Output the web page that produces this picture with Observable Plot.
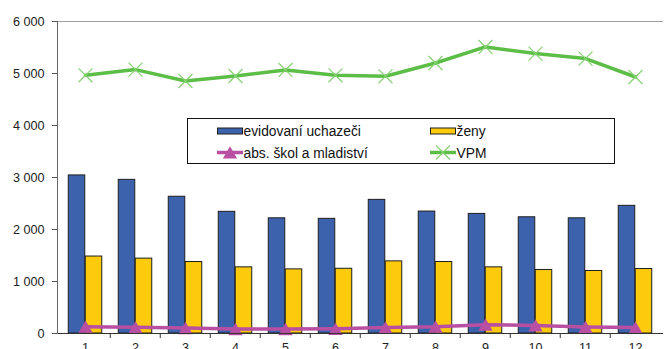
<!DOCTYPE html>
<html><head><meta charset="utf-8">
<script src="https://cdn.jsdelivr.net/npm/d3@7"></script>
<script src="https://cdn.jsdelivr.net/npm/@observablehq/plot@0.6"></script>
<style>
html,body{margin:0;padding:0;background:#fff;overflow:hidden}
#chart{position:relative;width:664px;height:349px}
</style></head><body><div id="chart"></div>
<script>
const months = [1, 2, 3, 4, 5, 6, 7, 8, 9, 10, 11, 12];
const evidovani = [3040, 2955, 2630, 2340, 2215, 2205, 2570, 2345, 2300, 2235, 2215, 2455];
const zeny = [1480, 1440, 1375, 1272, 1233, 1245, 1387, 1375, 1272, 1222, 1202, 1240];
const absolventi = [130, 120, 105, 85, 85, 90, 115, 130, 170, 155, 125, 115];
const vpm = [4965, 5075, 4856, 4952, 5068, 4965, 4946, 5202, 5511, 5383, 5287, 4933];
const yTicks = [0, 1000, 2000, 3000, 4000, 5000, 6000];
const seriesNames = ["evidovaní uchazeči", "ženy", "abs. škol a mladiství", "VPM"];
const colors = {blue: "#3d62ad", yellow: "#fdcb0b", magenta: "#b84fa2", green: "#5cbd47", greenMark: "#86d174", edge: "#1e1e1e"};

const W = 664, H = 349, mL = 57, mR = 1, mT = 21, mB = 16;
const bw = (W - mL - mR) / months.length, barW = 17, pad = (bw - 2 * barW) / 2;
const fmt = d3.formatLocale({decimal: ",", thousands: "\u00a0", grouping: [3], currency: ["", ""]}).format(",d");

const plot = Plot.plot({
  width: W, height: H, marginLeft: mL, marginRight: mR, marginTop: mT, marginBottom: mB,
  style: {fontFamily: "'Liberation Sans', Arial, sans-serif", fontSize: "12.6px", color: "#222", background: "#fff"},
  x: {type: "band", domain: months, padding: 0, axis: null},
  y: {domain: [0, 6000], axis: null},
  marks: [
    Plot.ruleY([6000], {stroke: "#a0a0a0"}),
    Plot.barY(months, {x: d => d, y: (d, i) => evidovani[i], fill: colors.blue, stroke: colors.edge, strokeWidth: 1, insetLeft: pad, insetRight: pad + barW}),
    Plot.barY(months, {x: d => d, y: (d, i) => zeny[i], fill: colors.yellow, stroke: colors.edge, strokeWidth: 1, insetLeft: pad + barW, insetRight: pad}),
    Plot.line(months, {x: d => d, y: (d, i) => absolventi[i], stroke: colors.magenta, strokeWidth: 3.5}),
    Plot.dot(months, {x: d => d, y: (d, i) => absolventi[i], symbol: "triangle", r: 5.3, fill: colors.magenta, stroke: "none", dy: 2}),
    Plot.line(months, {x: d => d, y: (d, i) => vpm[i], stroke: colors.green, strokeWidth: 3.5}),
    Plot.dot(months, {x: d => d, y: (d, i) => vpm[i], symbol: "times", r: 6.4, stroke: colors.greenMark, strokeWidth: 1.2}),
    Plot.ruleY([0], {stroke: "#333"}),
    Plot.axisY(yTicks, {tickSize: 5, tickPadding: 8, tickFormat: fmt, stroke: "#555", label: null}),
    Plot.axisX(months.slice(1), {tickSize: 5, fill: "none", dx: -bw / 2, stroke: "#333", label: null}),
    Plot.axisX(months, {tickSize: 0, tickPadding: 10, label: null}),
    Plot.frame({anchor: "left", stroke: "#666"})
  ]
});
document.getElementById("chart").appendChild(plot);

// legend box inside plot area
const svg = d3.select(plot);
const g = svg.append("g").attr("font-family", "'Liberation Sans', Arial, sans-serif").attr("font-size", "13.8px").attr("fill", "#111").attr("text-anchor", "start");
g.append("rect").attr("x", 187.5).attr("y", 118.5).attr("width", 427).attr("height", 45).attr("fill", "#fff").attr("stroke", "#111");
const rows = [
  {x: 217, y: 131, kind: "bar", color: colors.blue, name: seriesNames[0]},
  {x: 430, y: 131, kind: "bar", color: colors.yellow, name: seriesNames[1]},
  {x: 217, y: 152.5, kind: "line", color: colors.magenta, sym: "tri", name: seriesNames[2]},
  {x: 430, y: 152.5, kind: "line", color: colors.green, sym: "x", name: seriesNames[3]}
];
for (const r of rows) {
  if (r.kind === "bar") {
    g.append("rect").attr("x", r.x + 0.5).attr("y", r.y - 3).attr("width", 25).attr("height", 6).attr("fill", r.color).attr("stroke", colors.edge);
  } else {
    g.append("line").attr("x1", r.x).attr("x2", r.x + 26).attr("y1", r.y).attr("y2", r.y).attr("stroke", r.color).attr("stroke-width", 3.5);
    if (r.sym === "tri") {
      g.append("path").attr("d", d3.symbol(d3.symbolTriangle, Math.PI * 5.3 * 5.3)()).attr("transform", `translate(${r.x + 13},${r.y + 2})`).attr("fill", r.color);
    } else {
      g.append("path").attr("d", d3.symbol(d3.symbolTimes, Math.PI * 6.4 * 6.4)()).attr("transform", `translate(${r.x + 13},${r.y})`).attr("fill", "none").attr("stroke", colors.greenMark).attr("stroke-width", 1.2);
    }
  }
  g.append("text").attr("x", r.x + 26.5).attr("y", r.y + 5).attr("text-anchor", "start").text(r.name);
}
</script></body></html>
